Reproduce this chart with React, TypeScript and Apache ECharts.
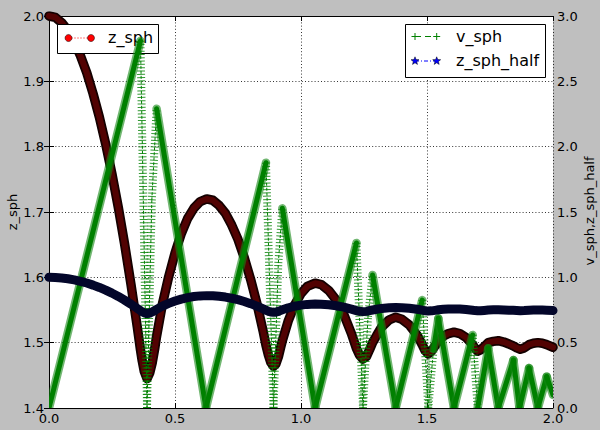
import React, { useEffect, useRef } from "react";
import * as echarts from "echarts";

// ---- data ----
const zTimes = [
  0, 0.025, 0.05, 0.075, 0.1, 0.125, 0.15, 0.175, 0.2, 0.225, 0.25, 0.275, 0.3, 0.325, 0.35, 0.363,
  0.37, 0.378, 0.389, 0.4, 0.41, 0.42, 0.427,
  0.45, 0.475, 0.5, 0.525, 0.55, 0.575, 0.6, 0.626,
  0.65, 0.675, 0.7, 0.725, 0.75, 0.775, 0.8, 0.825, 0.85, 0.861,
  0.87, 0.88, 0.891, 0.9, 0.91, 0.92, 0.926,
  0.95, 0.975, 1.0, 1.025, 1.056,
  1.08, 1.11, 1.14, 1.17, 1.2, 1.22,
  1.232, 1.246, 1.26, 1.272, 1.284,
  1.3, 1.32, 1.35, 1.376,
  1.4, 1.43, 1.46, 1.481,
  1.492, 1.505, 1.518, 1.532, 1.545,
  1.565, 1.585, 1.607, 1.63, 1.655, 1.681,
  1.691, 1.701, 1.712, 1.727, 1.743,
  1.763, 1.783, 1.805, 1.825, 1.842,
  1.856, 1.87, 1.886, 1.905,
  1.922, 1.94, 1.958, 1.975, 2.0,
];

const zSph = [
  2.0, 1.998, 1.99, 1.978, 1.961, 1.939, 1.913, 1.881, 1.845, 1.804, 1.758, 1.707, 1.651, 1.59, 1.525, 1.489,
  1.472, 1.456, 1.445, 1.454, 1.47, 1.492, 1.51,
  1.559, 1.601, 1.637, 1.667, 1.69, 1.706, 1.716, 1.72,
  1.718, 1.71, 1.698, 1.68, 1.658, 1.63, 1.597, 1.56, 1.517, 1.496,
  1.482, 1.47, 1.464, 1.467, 1.478, 1.494, 1.503,
  1.534, 1.558, 1.575, 1.586, 1.591,
  1.589, 1.58, 1.565, 1.543, 1.514, 1.491,
  1.481, 1.475, 1.479, 1.489, 1.5,
  1.511, 1.524, 1.535, 1.539,
  1.536, 1.527, 1.512, 1.497,
  1.488, 1.483, 1.487, 1.495, 1.503,
  1.51, 1.514, 1.516, 1.514, 1.508, 1.497,
  1.491, 1.487, 1.489, 1.494, 1.5,
  1.502, 1.503, 1.501, 1.498, 1.495,
  1.492, 1.49, 1.492, 1.497,
  1.499, 1.5, 1.499, 1.497, 1.493,
];

const zSphHalf = [
  1.0, 0.999, 0.995, 0.989, 0.9805, 0.9695, 0.9565, 0.9405, 0.9225, 0.902, 0.879, 0.8535, 0.8255, 0.795, 0.7625, 0.7445,
  0.736, 0.728, 0.7225, 0.727, 0.735, 0.746, 0.755,
  0.7795, 0.8005, 0.8185, 0.8335, 0.845, 0.853, 0.858, 0.86,
  0.859, 0.855, 0.849, 0.84, 0.829, 0.815, 0.7985, 0.78, 0.7585, 0.748,
  0.741, 0.735, 0.732, 0.7335, 0.739, 0.747, 0.7515,
  0.767, 0.779, 0.7875, 0.793, 0.7955,
  0.7945, 0.79, 0.7825, 0.7715, 0.757, 0.7455,
  0.7405, 0.7375, 0.7395, 0.7445, 0.75,
  0.7555, 0.762, 0.7675, 0.7695,
  0.768, 0.7635, 0.756, 0.7485,
  0.744, 0.7415, 0.7435, 0.7475, 0.7515,
  0.755, 0.757, 0.758, 0.757, 0.754, 0.7485,
  0.7455, 0.7435, 0.7445, 0.747, 0.75,
  0.751, 0.7515, 0.7505, 0.749, 0.7475,
  0.746, 0.745, 0.746, 0.7485,
  0.7495, 0.75, 0.7495, 0.7485, 0.7465,
];

const vTimes = [
  0, 0.363, 0.389, 0.408, 0.427, 0.623, 0.861, 0.891, 0.91, 0.926, 1.056, 1.22, 1.246, 1.266, 1.284,
  1.376, 1.481, 1.505, 1.526, 1.545, 1.607, 1.681, 1.701, 1.743, 1.783, 1.843, 1.867, 1.905, 1.94, 1.975, 2.0,
];
const vSph = [
  0, 2.81, 0, 1.59, 2.29, 0, 1.877, 0, 1.11, 1.528, 0, 1.263, 0, 0.7, 1.018,
  0, 0.826, 0, 0.45, 0.686, 0, 0.559, 0, 0.457, 0, 0.367, 0, 0.306, 0, 0.24, 0.1,
];

const xTickStep = 0.5;
const leftTickStep = 0.1;
const rightTickStep = 0.5;

const FONT = '"DejaVu Sans", "Liberation Sans", sans-serif';

function starPoints(cx: number, cy: number, ro: number, ri: number) {
  const pts: number[][] = [];
  for (let i = 0; i < 10; i++) {
    const r = i % 2 === 0 ? ro : ri;
    const a = -Math.PI / 2 + (i * Math.PI) / 5;
    pts.push([cx + r * Math.cos(a), cy + r * Math.sin(a)]);
  }
  return pts;
}

export default function App() {
  const ref = useRef<HTMLDivElement>(null);
  useEffect(() => {
    const chart = echarts.init(ref.current!, null, { renderer: "svg" });
    const zData = zTimes.map((t, i) => [t, zSph[i]]);
    const zHalfData = zTimes.map((t, i) => [t, zSphHalf[i]]);
    const vSegs = vTimes.slice(0, -1).map((t, i) => [t, vSph[i], vTimes[i + 1], vSph[i + 1]]);

    const axisLine = { show: true, lineStyle: { color: "#000", width: 1 } };
    const axisTick = { show: true, inside: true, length: 5, lineStyle: { color: "#000", width: 1 } };
    const label = (margin: number) => ({
      color: "#000",
      fontSize: 13,
      fontFamily: FONT,
      margin,
      formatter: (v: number) => v.toFixed(1),
    });
    const split = { show: true, lineStyle: { color: "#000", width: 0.8, type: [1, 2.2] } };

    const option: any = {
      animation: false,
      backgroundColor: "#bfbfbf",
      grid: { left: 49, top: 16, right: 47, bottom: 22, show: true, backgroundColor: "#fff", borderWidth: 0 },
      xAxis: [
        { type: "value", min: 0, max: 2, interval: xTickStep, position: "bottom", axisLine, axisTick, axisLabel: label(4), splitLine: split },
        { type: "value", min: 0, max: 2, interval: xTickStep, position: "top", axisLine, axisTick, axisLabel: { show: false }, splitLine: { show: false } },
      ],
      yAxis: [
        { type: "value", min: 1.4, max: 2.0, interval: leftTickStep, position: "left", axisLine, axisTick, axisLabel: label(5), splitLine: split },
        { type: "value", min: 0, max: 3, interval: rightTickStep, position: "right", axisLine, axisTick, axisLabel: label(4), splitLine: { show: false } },
      ],
      series: [
        {
          name: "z_sph_edge", type: "line", xAxisIndex: 0, yAxisIndex: 0, data: zData, showSymbol: false, z: 1,
          lineStyle: { color: "#140000", width: 9.5, cap: "round", join: "round" }, silent: true,
        },
        {
          name: "z_sph", type: "line", xAxisIndex: 0, yAxisIndex: 0, data: zData, showSymbol: false, z: 1,
          lineStyle: { color: "#520202", width: 6, cap: "round", join: "round" }, silent: true,
        },
        {
          name: "v_sph", type: "custom", coordinateSystem: "cartesian2d", xAxisIndex: 0, yAxisIndex: 1, z: 3,
          clip: true, silent: true, data: vSegs,
          encode: { x: [0, 2], y: [1, 3] },
          renderItem: (params: any, api: any) => {
            const p0 = api.coord([api.value(0), api.value(1)]);
            const p1 = api.coord([api.value(2), api.value(3)]);
            const dx = Math.abs(p1[0] - p0[0]);
            const dy = Math.abs(p1[1] - p0[1]);
            const shape = { x1: p0[0], y1: p0[1], x2: p1[0], y2: p1[1] };
            if (dy > 9 * Math.max(dx, 0.1)) {
              return {
                type: "group",
                children: [
                  { type: "line", shape, style: { stroke: "#008000", lineWidth: 1, lineDash: [3, 2] } },
                  { type: "line", shape, style: { stroke: "rgba(0,128,0,0.8)", lineWidth: 8, lineDash: [1, 2.3] } },
                ],
              };
            }
            return {
              type: "group",
              children: [
                { type: "line", shape, style: { stroke: "rgba(20,135,20,0.6)", lineWidth: 8.5, lineCap: "round" } },
                { type: "line", shape, style: { stroke: "#008000", lineWidth: 5, lineCap: "round" } },
              ],
            };
          },
        },
        {
          name: "z_sph_half", type: "line", xAxisIndex: 0, yAxisIndex: 1, data: zHalfData, showSymbol: false, z: 4,
          lineStyle: { color: "#03062a", width: 9, cap: "round", join: "round" }, silent: true,
        },
      ],
      graphic: [
        { type: "text", x: 12, y: 212, rotation: Math.PI / 2, z: 20,
          style: { text: "z_sph", font: `13px ${FONT}`, fill: "#000", align: "center", verticalAlign: "middle", textAlign: "center", textVerticalAlign: "middle" } },
        { type: "text", x: 589, y: 211, rotation: Math.PI / 2, z: 20,
          style: { text: "v_sph,z_sph_half", font: `13px ${FONT}`, fill: "#000", align: "center", verticalAlign: "middle", textAlign: "center", textVerticalAlign: "middle" } },
        // legend of left axis (under the right-axis lines)
        { type: "rect", z: 2, shape: { x: 57.5, y: 24.5, width: 101, height: 29 }, style: { fill: "#fff", stroke: "#000", lineWidth: 1 } },
        { type: "line", z: 2, shape: { x1: 68.5, y1: 38, x2: 91, y2: 38 }, style: { stroke: "#ff0000", lineWidth: 1, lineDash: [1, 2] } },
        { type: "circle", z: 2, shape: { cx: 68.5, cy: 38, r: 3.5 }, style: { fill: "#ff0000", stroke: "#000", lineWidth: 0.5 } },
        { type: "circle", z: 2, shape: { cx: 91, cy: 38, r: 3.5 }, style: { fill: "#ff0000", stroke: "#000", lineWidth: 0.5 } },
        { type: "text", z: 2, x: 108, y: 37, style: { text: "z_sph", font: `16px ${FONT}`, fill: "#000", verticalAlign: "middle", textVerticalAlign: "middle" } },
        // legend of right axis
        { type: "rect", z: 30, shape: { x: 405.5, y: 24.5, width: 140, height: 53 }, style: { fill: "#fff", stroke: "#000", lineWidth: 1 } },
        { type: "line", z: 30, shape: { x1: 415, y1: 36.5, x2: 436.7, y2: 36.5 }, style: { stroke: "#008000", lineWidth: 1, lineDash: [6, 4] } },
        { type: "line", z: 30, shape: { x1: 411.5, y1: 36.5, x2: 418.5, y2: 36.5 }, style: { stroke: "#008000", lineWidth: 1 } },
        { type: "line", z: 30, shape: { x1: 415, y1: 33, x2: 415, y2: 40 }, style: { stroke: "#008000", lineWidth: 1 } },
        { type: "line", z: 30, shape: { x1: 433.2, y1: 36.5, x2: 440.2, y2: 36.5 }, style: { stroke: "#008000", lineWidth: 1 } },
        { type: "line", z: 30, shape: { x1: 436.7, y1: 33, x2: 436.7, y2: 40 }, style: { stroke: "#008000", lineWidth: 1 } },
        { type: "text", z: 30, x: 456, y: 36, style: { text: "v_sph", font: `16px ${FONT}`, fill: "#000", verticalAlign: "middle", textVerticalAlign: "middle" } },
        { type: "line", z: 30, shape: { x1: 415, y1: 61, x2: 436.7, y2: 61 }, style: { stroke: "#0000ff", lineWidth: 1, lineDash: [4, 2, 1, 2] } },
        { type: "polygon", z: 30, shape: { points: starPoints(415, 61, 4.2, 1.8) }, style: { fill: "#0000ff", stroke: "#000", lineWidth: 0.5 } },
        { type: "polygon", z: 30, shape: { points: starPoints(436.7, 61, 4.2, 1.8) }, style: { fill: "#0000ff", stroke: "#000", lineWidth: 0.5 } },
        { type: "text", z: 30, x: 456, y: 60.5, style: { text: "z_sph_half", font: `16px ${FONT}`, fill: "#000", verticalAlign: "middle", textVerticalAlign: "middle" } },
      ],
    };
    chart.setOption(option);
    return () => chart.dispose();
  }, []);
  return (
    <div
      ref={ref}
      style={{ position: "fixed", left: 0, top: 0, width: 600, height: 430, background: "#bfbfbf" }}
    />
  );
}
